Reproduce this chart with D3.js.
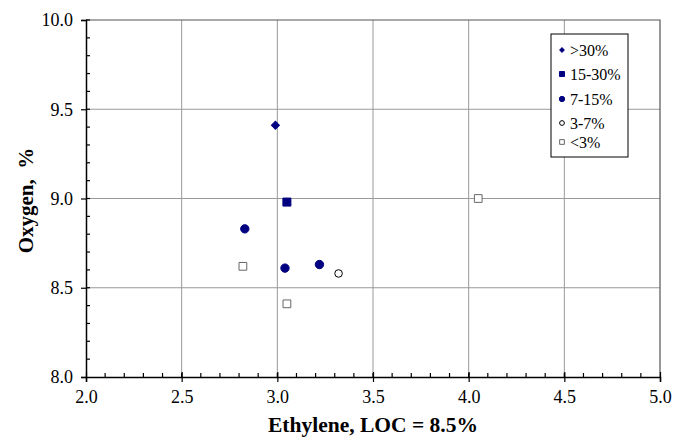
<!DOCTYPE html>
<html>
<head>
<meta charset="utf-8">
<script src="https://cdn.jsdelivr.net/npm/d3@7"></script>
<style>
body { margin: 0; background: #fff; }
</style>
</head>
<body>
<div id="chart"></div>
<script>
// data
var xTicks = [2.0, 2.5, 3.0, 3.5, 4.0, 4.5, 5.0];
var yTicks = [8.0, 8.5, 9.0, 9.5, 10.0];
var seriesNames = [">30%", "15-30%", "7-15%", "3-7%", "<3%"];
var over30 = [[2.99, 9.41]];
var p15to30 = [[3.05, 8.98]];
var p7to15 = [[2.83, 8.83], [3.04, 8.61], [3.22, 8.63]];
var p3to7 = [[3.32, 8.58]];
var under3 = [[2.82, 8.62], [3.05, 8.41], [4.05, 9.00]];

var width = 673, height = 437;
var margin = {left: 86, top: 20, right: 13, bottom: 60};
var navy = "#000080";
var serif = "'Liberation Serif', 'Times New Roman', serif";

var svg = d3.select("#chart").append("svg")
    .attr("width", width).attr("height", height)
    .attr("font-family", serif);

var x = d3.scaleLinear().domain([2, 5]).range([margin.left, width - margin.right]);
var y = d3.scaleLinear().domain([8, 10]).range([height - margin.bottom, margin.top]);

// grid
svg.append("g").selectAll("line").data(xTicks.slice(1, -1)).enter().append("line")
   .attr("x1", function(d){ return x(d); }).attr("x2", function(d){ return x(d); })
   .attr("y1", y(8)).attr("y2", y(10))
   .attr("stroke", "#999").attr("stroke-width", 1);
svg.append("g").selectAll("line").data(yTicks.slice(1, -1)).enter().append("line")
   .attr("y1", function(d){ return y(d); }).attr("y2", function(d){ return y(d); })
   .attr("x1", x(2)).attr("x2", x(5))
   .attr("stroke", "#999").attr("stroke-width", 1);

// top and right frame
svg.append("path")
   .attr("d", "M" + x(2) + "," + y(10) + "H" + x(5) + "V" + y(8))
   .attr("fill", "none").attr("stroke", "#555").attr("stroke-width", 1.2);

// x axis
var xAxis = svg.append("g").attr("transform", "translate(0," + y(8) + ")")
   .call(d3.axisBottom(x).tickValues(xTicks).tickFormat(d3.format(".1f")).tickSize(5).tickPadding(8));
xAxis.attr("font-family", serif).attr("font-size", 18);
xAxis.select(".domain").attr("stroke-width", 1.5);
xAxis.selectAll(".tick line").attr("y1", -5).attr("stroke-width", 1.2);
xAxis.selectAll("text").attr("fill", "#000");
var xMinor = d3.range(2.1, 5.0, 0.1);
xAxis.selectAll(".minor").data(xMinor).enter().append("line")
   .attr("class", "minor")
   .attr("x1", function(d){ return x(d); }).attr("x2", function(d){ return x(d); })
   .attr("y1", 0).attr("y2", -4).attr("stroke", "#000").attr("stroke-width", 1.2);

// y axis
var yAxis = svg.append("g").attr("transform", "translate(" + x(2) + ",0)")
   .call(d3.axisLeft(y).tickValues(yTicks).tickFormat(d3.format(".1f")).tickSize(5).tickPadding(8));
yAxis.attr("font-family", serif).attr("font-size", 18);
yAxis.select(".domain").attr("stroke-width", 1.5);
yAxis.selectAll(".tick line").attr("stroke-width", 1.2);
yAxis.selectAll("text").attr("fill", "#000");
var yMinor = d3.range(8.1, 10.0, 0.1);
yAxis.selectAll(".minor").data(yMinor).enter().append("line")
   .attr("class", "minor")
   .attr("y1", function(d){ return y(d); }).attr("y2", function(d){ return y(d); })
   .attr("x1", 0).attr("x2", 4).attr("stroke", "#000").attr("stroke-width", 1.2);

// axis titles
svg.append("text").attr("x", (x(2) + x(5)) / 2).attr("y", 432)
   .attr("text-anchor", "middle").attr("font-size", 21.5).attr("font-weight", "bold")
   .text("Ethylene, LOC = 8.5%");
svg.append("text").attr("transform", "translate(33," + (y(9) + 2) + ") rotate(-90)")
   .attr("text-anchor", "middle").attr("font-size", 21).attr("font-weight", "bold")
   .style("white-space", "pre")
   .text("Oxygen,  %");

// marks
function sym(type, size) { return d3.symbol().type(type).size(size); }
var marks = [
  {data: over30, sym: sym(d3.symbolSquare, 32), rot: 45, fill: navy, stroke: navy},
  {data: p15to30, sym: sym(d3.symbolSquare, 64), rot: 0, fill: navy, stroke: navy},
  {data: p7to15, sym: sym(d3.symbolCircle, 55), rot: 0, fill: navy, stroke: navy},
  {data: p3to7, sym: sym(d3.symbolCircle, 45), rot: 0, fill: "#fff", stroke: "#000"},
  {data: under3, sym: sym(d3.symbolSquare, 60), rot: 0, fill: "#fff", stroke: "#666"}
];
marks.forEach(function(m) {
  svg.append("g").selectAll("path").data(m.data).enter().append("path")
     .attr("d", m.sym)
     .attr("transform", function(d){ return "translate(" + x(d[0]) + "," + y(d[1]) + ") rotate(" + m.rot + ")"; })
     .attr("fill", m.fill).attr("stroke", m.stroke).attr("stroke-width", 1);
});

// legend
var lg = svg.append("g").attr("transform", "translate(551,34)");
lg.append("rect").attr("width", 77).attr("height", 123)
  .attr("fill", "#fff").attr("stroke", "#000").attr("stroke-width", 1);
var rowY = [16, 40, 65, 89, 108];
var legSyms = [sym(d3.symbolSquare, 10), sym(d3.symbolSquare, 25), sym(d3.symbolCircle, 22),
               sym(d3.symbolCircle, 18), sym(d3.symbolSquare, 22)];
seriesNames.forEach(function(name, i) {
  var row = lg.append("g").attr("transform", "translate(0," + rowY[i] + ")");
  row.append("path").attr("d", legSyms[i]).attr("transform", "translate(11,0) rotate(" + marks[i].rot + ")")
     .attr("fill", marks[i].fill).attr("stroke", marks[i].stroke).attr("stroke-width", 1);
  row.append("text").attr("x", 19).attr("y", 5.5).attr("font-size", 16).text(name);
});
</script>
</body>
</html>
